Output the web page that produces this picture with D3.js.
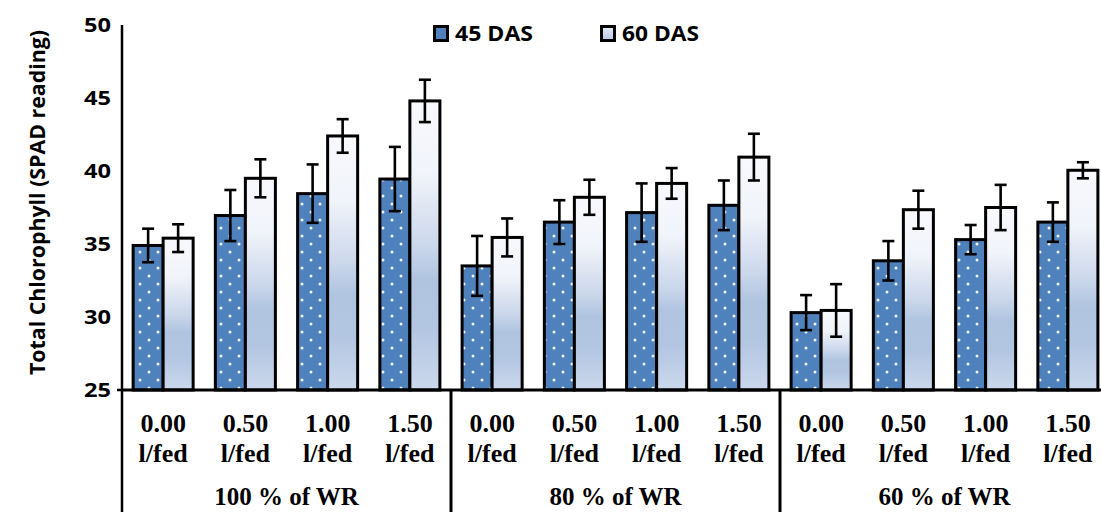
<!DOCTYPE html>
<html>
<head>
<meta charset="utf-8">
<script src="https://cdn.jsdelivr.net/npm/d3@7"></script>
<style>
  html, body { margin: 0; padding: 0; background: #fff; }
  svg { display: block; }
</style>
</head>
<body>
<svg id="chart" width="1101" height="512"></svg>
<script>
// ---- data ----
const groups = ["100 % of WR", "80 % of WR", "60 % of WR"];
const doses = ["0.00", "0.50", "1.00", "1.50"];
const doseUnit = "l/fed";
const seriesNames = ["45 DAS", "60 DAS"];
const das45 = [34.9, 36.95, 38.45, 39.45, 33.5, 36.5, 37.15, 37.65, 30.3, 33.85, 35.3, 36.5];
const das45Err = [1.15, 1.75, 2.0, 2.2, 2.05, 1.5, 2.0, 1.7, 1.2, 1.35, 1.0, 1.35];
const das60 = [35.4, 39.5, 42.4, 44.8, 35.45, 38.2, 39.15, 40.95, 30.45, 37.35, 37.5, 40.05];
const das60Err = [0.95, 1.3, 1.15, 1.45, 1.3, 1.2, 1.05, 1.6, 1.8, 1.3, 1.55, 0.55];
const yTicks = [25, 30, 35, 40, 45, 50];
const yTitle = "Total Chlorophyll (SPAD reading)";

// ---- setup ----
const svg = d3.select("#chart");
const mLeft = 122, mRight = 1109, mTop = 25, mBottom = 390;

const cats = [];
groups.forEach((g, gi) => doses.forEach((d, di) => cats.push({ g, gi, d, i: gi * doses.length + di })));

const y = d3.scaleLinear().domain([25, 50]).range([mBottom, mTop]);
const x0 = d3.scaleBand().domain(cats.map(c => c.i)).range([mLeft, mRight]).padding(0);
const x1 = d3.scaleBand().domain(seriesNames).range([0, x0.bandwidth()]).paddingInner(0).paddingOuter(0.37);

const defs = svg.append("defs");
const pat = defs.append("pattern").attr("id", "dots").attr("patternUnits", "userSpaceOnUse")
  .attr("width", 18).attr("height", 16);
pat.append("rect").attr("width", 18).attr("height", 16).attr("fill", "#4f81bd");
pat.append("circle").attr("cx", 5).attr("cy", 4).attr("r", 1.5).attr("fill", "#ffffff").attr("opacity", 0.9);
pat.append("circle").attr("cx", 14).attr("cy", 12).attr("r", 1.5).attr("fill", "#ffffff").attr("opacity", 0.9);

const grad = defs.append("linearGradient").attr("id", "lightGrad")
  .attr("x1", 0).attr("y1", 0).attr("x2", 0).attr("y2", 1);
[[0, "#f8f9fd"], [0.25, "#f1f4fa"], [0.5, "#cbd7eb"], [0.62, "#b0c4e0"], [0.78, "#b2c5e1"], [1, "#cbd8ec"]]
  .forEach(([o, c]) => grad.append("stop").attr("offset", o).attr("stop-color", c));

const legGrad = defs.append("linearGradient").attr("id", "legGrad")
  .attr("x1", 0).attr("y1", 0).attr("x2", 0).attr("y2", 1);
[[0, "#e6ecf6"], [1, "#b5c7e2"]].forEach(([o, c]) => legGrad.append("stop").attr("offset", o).attr("stop-color", c));

// ---- bars ----
const series = [
  { name: seriesNames[0], vals: das45, errs: das45Err, fill: "url(#dots)" },
  { name: seriesNames[1], vals: das60, errs: das60Err, fill: "url(#lightGrad)" }
];

const gBars = svg.append("g");
series.forEach(s => {
  const g = gBars.append("g");
  g.selectAll("rect").data(cats).join("rect")
    .attr("x", c => x0(c.i) + x1(s.name))
    .attr("y", c => y(s.vals[c.i]))
    .attr("width", x1.bandwidth())
    .attr("height", c => y(25) - y(s.vals[c.i]))
    .attr("fill", s.fill)
    .attr("stroke", "#000").attr("stroke-width", 3);
});
series.forEach(s => {
  const g = gBars.append("g").attr("stroke", "#000").attr("stroke-width", 2.6);
  cats.forEach(c => {
    const cx = x0(c.i) + x1(s.name) + x1.bandwidth() / 2;
    const v = s.vals[c.i], e = s.errs[c.i];
    g.append("line").attr("x1", cx).attr("x2", cx).attr("y1", y(v + e)).attr("y2", y(v - e));
    g.append("line").attr("x1", cx - 6).attr("x2", cx + 6).attr("y1", y(v + e)).attr("y2", y(v + e));
    g.append("line").attr("x1", cx - 6).attr("x2", cx + 6).attr("y1", y(v - e)).attr("y2", y(v - e));
  });
});

// ---- axes ----
const yAxis = svg.append("g").attr("transform", `translate(${mLeft},0)`)
  .call(d3.axisLeft(y).tickValues(yTicks).tickSize(0).tickPadding(11).tickFormat(d3.format("d")));
yAxis.select(".domain").remove();
yAxis.selectAll("text").attr("font-family", "Open Sans").attr("font-weight", "bold")
  .attr("font-size", 20).attr("fill", "#000")
  .attr("textLength", 27).attr("lengthAdjust", "spacingAndGlyphs");

svg.append("line").attr("x1", mLeft).attr("x2", mLeft).attr("y1", mTop).attr("y2", 512)
  .attr("stroke", "#000").attr("stroke-width", 2.5);
svg.append("line").attr("x1", mLeft - 5).attr("x2", mLeft).attr("y1", mBottom).attr("y2", mBottom)
  .attr("stroke", "#000").attr("stroke-width", 2.5);
svg.append("line").attr("x1", mLeft).attr("x2", 1101).attr("y1", mBottom).attr("y2", mBottom)
  .attr("stroke", "#000").attr("stroke-width", 3);
groups.forEach((g, gi) => {
  if (gi === 0) return;
  const sx = x0(gi * doses.length);
  svg.append("line").attr("x1", sx).attr("x2", sx).attr("y1", mBottom).attr("y2", 512)
    .attr("stroke", "#000").attr("stroke-width", 3);
});

// category labels
const lab = svg.append("g").attr("font-family", "Liberation Serif").attr("font-weight", "bold")
  .attr("font-size", 26).attr("text-anchor", "middle").attr("fill", "#000");
cats.forEach(c => {
  const cx = x0(c.i) + x0.bandwidth() / 2;
  lab.append("text").attr("x", cx).attr("y", 432).text(c.d);
  lab.append("text").attr("x", cx).attr("y", 462).text(doseUnit);
});
groups.forEach((g, gi) => {
  const gx = (x0(gi * doses.length) + x0((gi + 1) * doses.length - 1) + x0.bandwidth()) / 2;
  lab.append("text").attr("x", gx).attr("y", 505).attr("font-size", 25).text(g);
});

// y title
svg.append("text")
  .attr("transform", `translate(45,${(30 + 375) / 2}) rotate(-90)`)
  .attr("text-anchor", "middle")
  .attr("font-family", "Open Sans").attr("font-weight", "bold").attr("font-size", 21)
  .attr("textLength", 345).attr("lengthAdjust", "spacingAndGlyphs")
  .attr("fill", "#000").text(yTitle);

// legend
const legend = svg.append("g");
const legX = [433, 600];
series.forEach((s, i) => {
  legend.append("rect").attr("x", legX[i] + 1.5).attr("y", 26.5).attr("width", 13).attr("height", 14)
    .attr("fill", i === 0 ? "#4f81bd" : "url(#legGrad)").attr("stroke", "#000").attr("stroke-width", 3);
  legend.append("text").attr("x", legX[i] + 22).attr("y", 41)
    .attr("font-family", "Open Sans").attr("font-weight", "bold").attr("font-size", 21)
    .attr("textLength", i === 0 ? 78 : 77).attr("lengthAdjust", "spacingAndGlyphs")
    .attr("fill", "#000").text(s.name);
});
</script>
</body>
</html>
